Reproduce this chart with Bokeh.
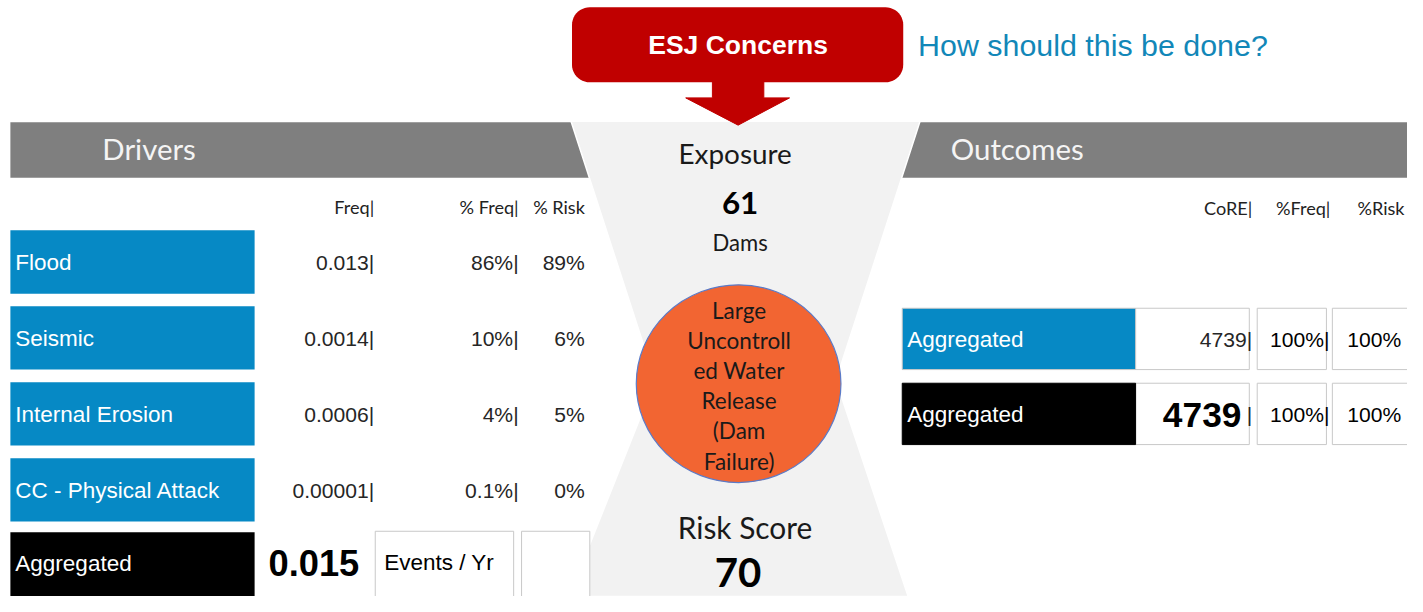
import numpy as np
from bokeh.plotting import figure
from bokeh.models import Range1d
from bokeh.core.properties import value
from bokeh.embed import file_html
from bokeh.resources import INLINE

# ---------------- data ----------------
drivers = ["Flood", "Seismic", "Internal Erosion", "CC - Physical Attack"]
freq = ["0.013", "0.0014", "0.0006", "0.00001"]
pct_freq = ["86%", "10%", "4%", "0.1%"]
pct_risk = ["89%", "6%", "5%", "0%"]
driver_cols = ["Freq|", "% Freq|", "% Risk"]
total_label = "Aggregated"
total_freq = "0.015"
freq_unit = "Events / Yr"

outcome_labels = ["Aggregated", "Aggregated"]
outcome_core = ["4739", "4739"]
outcome_pct_freq = ["100%", "100%"]
outcome_pct_risk = ["100%", "100%"]
outcome_cols = ["CoRE|", "%Freq|", "%Risk"]

exposure_title = "Exposure"
exposure_value = "61"
exposure_unit = "Dams"
event_lines = ["Large", "Uncontroll", "ed Water", "Release", "(Dam", "Failure)"]
risk_title = "Risk Score"
risk_score = "70"
concern = "ESJ Concerns"
question = "How should this be done?"

# ---------------- styles ----------------
ARIAL = value("Liberation Sans")
CALIBRI = value("Lato")
BLUE = "#0689c5"
GRAY = "#7f7f7f"
LIGHT = "#f2f2f2"
RED = "#c00000"
ORANGE = "#f26532"
BORDER = "#c8c8c8"
TXT = "#262626"
FS = 0.98  # font scale (canvas is slightly smaller than the slide)

p = figure(width=1407, height=596, x_range=Range1d(0, 1423), y_range=Range1d(612, 0),
           toolbar_location=None, output_backend="svg", min_border=0)
p.axis.visible = False
p.grid.visible = False
p.outline_line_color = None
p.background_fill_color = "white"
p.border_fill_color = "white"


def txt(x, y, t, size, color=TXT, font=ARIAL, align="left", style="normal"):
    p.text(x=[x], y=[y], text=[t], text_font=font, text_font_size=f"{size * FS:.1f}px",
           text_color=color, text_align=align, text_baseline="middle",
           text_font_style=style)


# header band
p.quad(left=[10], right=[1423], top=[125], bottom=[182], fill_color=GRAY, line_color=None)

# hourglass
p.patch(x=[577, 930, 845, 918, 575, 662], y=[124, 124, 390, 612, 612, 390],
        fill_color=LIGHT, line_color="white", line_width=1.5)

# header titles
txt(103, 152, "Drivers", 30, color="#f4f4f4", font=CALIBRI)
txt(961, 152, "Outcomes", 30, color="#f4f4f4", font=CALIBRI)

# red callout with arrow
p.patch(x=[720, 772, 772, 798, 746, 693, 720], y=[80, 80, 100, 100, 128, 100, 100],
        fill_color=RED, line_color=RED, line_width=1)
r = 18
l, rt, t, b = 578, 913, 7, 84
ang = np.linspace(0, np.pi / 2, 12)
xs = np.concatenate([rt - r + r * np.sin(ang), rt - r + r * np.cos(ang),
                     l + r - r * np.sin(ang), l + r - r * np.cos(ang)])
ys = np.concatenate([t + r - r * np.cos(ang), b - r + r * np.sin(ang),
                     b - r + r * np.cos(ang), t + r - r * np.sin(ang)])
p.patch(x=xs, y=ys, fill_color=RED, line_color=None)
txt(746, 46, concern, 27, color="white", align="center", style="bold")
txt(928, 46, question, 31, color="#1287b8")

# ---------------- drivers ----------------
col_right = [378, 524, 591]
for c, h in zip(col_right, driver_cols):
    txt(c, 212, h, 18.5, color="#222222", font=CALIBRI, align="right")

row0, step, hgt = 236, 78, 65
for i, name in enumerate(drivers):
    top = row0 + i * step
    mid = top + hgt / 2 + 1
    p.quad(left=[10], right=[257], top=[top], bottom=[top + hgt], fill_color=BLUE, line_color=None)
    txt(15, mid, name, 23, color="white")
    txt(col_right[0], mid, freq[i] + "|", 21.5, align="right")
    txt(col_right[1], mid, pct_freq[i] + "|", 21.5, align="right")
    txt(col_right[2], mid, pct_risk[i], 21.5, align="right")

agg_top = row0 + len(drivers) * step - 2
p.quad(left=[10], right=[257], top=[agg_top], bottom=[620], fill_color="black", line_color=None)
txt(15, agg_top + 32, total_label, 23, color="white")
txt(271, agg_top + 32, total_freq, 37, color="black", style="bold")
p.quad(left=[379, 527], right=[519, 596], top=[agg_top - 1] * 2, bottom=[620] * 2,
       fill_color="white", line_color=BORDER, line_width=1)
txt(388, agg_top + 31, freq_unit, 23, color="black")

# ---------------- centre ----------------
cx = 746
txt(cx - 3, 157, exposure_title, 28.5, color="#1a1a1a", font=CALIBRI, align="center")
txt(cx + 2, 208, exposure_value, 32, color="black", font=CALIBRI, align="center", style="bold")
txt(cx + 2, 248, exposure_unit, 22.5, color="#1a1a1a", font=CALIBRI, align="center")

p.ellipse(x=[cx + 0.5], y=[393.5], width=207, height=203, fill_color=ORANGE,
          line_color="#5b7bc8", line_width=1.2)
for k, line in enumerate(event_lines):
    txt(cx + 1, 318 + k * 31, line, 23, color="#1a1a1a", font=CALIBRI, align="center")

txt(cx + 7, 541, risk_title, 30.5, color="#1a1a1a", font=CALIBRI, align="center")
txt(cx, 587, risk_score, 41, color="black", font=CALIBRI, align="center", style="bold")

# ---------------- outcomes ----------------
ocol_right = [1266, 1345, 1420]
for c, h in zip(ocol_right, outcome_cols):
    txt(c, 213, h, 18.5, color="#222222", font=CALIBRI, align="right")

orow0, ostep, ohgt = 316, 77, 63
ocolors = [BLUE, "black"]
for j, lab in enumerate(outcome_labels):
    top = orow0 + j * ostep
    mid = top + ohgt / 2 + 1
    p.quad(left=[1148, 1271, 1347], right=[1263, 1341, 1430], top=[top] * 3, bottom=[top + ohgt] * 3,
           fill_color="white", line_color=BORDER, line_width=1)
    p.quad(left=[912], right=[1148], top=[top], bottom=[top + ohgt], fill_color=ocolors[j],
           line_color=BORDER if j == 0 else "black", line_width=1)
    txt(917, mid, lab, 23, color="white")
    if j == 0:
        txt(1266, mid, outcome_core[j] + "|", 21.5, align="right")
    else:
        txt(1255, mid, outcome_core[j], 36, color="black", align="right", style="bold")
        txt(1266, mid, "|", 21.5, align="right")
    txt(1344, mid, outcome_pct_freq[j] + "|", 21.5, color="black", align="right")
    txt(1362, mid, outcome_pct_risk[j], 21.5, color="black")

open("out.html", "w").write(file_html(p, INLINE))
